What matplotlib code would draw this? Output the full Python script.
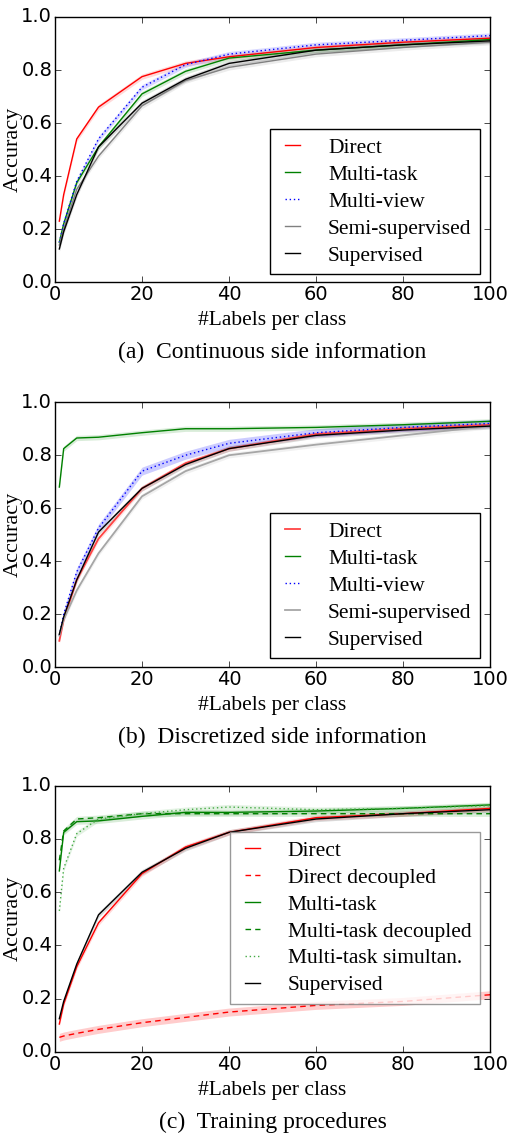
import matplotlib
matplotlib.use("Agg")
import matplotlib.pyplot as plt

# number of labelled examples per class
n_labels = [1, 2, 5, 10, 20, 30, 40, 60, 80, 100]

# (a) continuous side information
a_direct = [0.23, 0.33, 0.54, 0.66, 0.775, 0.825, 0.85, 0.885, 0.905, 0.92]
a_multitask = [0.15, 0.22, 0.375, 0.51, 0.71, 0.795, 0.845, 0.875, 0.895, 0.915]
a_multiview = [0.15, 0.22, 0.38, 0.54, 0.735, 0.82, 0.86, 0.895, 0.912, 0.93]
a_semisup = [0.14, 0.2, 0.35, 0.475, 0.665, 0.76, 0.81, 0.86, 0.885, 0.905]
a_sup = [0.125, 0.19, 0.33, 0.51, 0.675, 0.765, 0.825, 0.875, 0.895, 0.91]

# (b) discretized side information
b_direct = [0.10, 0.18, 0.33, 0.485, 0.675, 0.77, 0.825, 0.88, 0.90, 0.915]
b_multitask = [0.68, 0.825, 0.865, 0.868, 0.885, 0.90, 0.90, 0.905, 0.915, 0.928]
b_multiview = [0.12, 0.2, 0.36, 0.525, 0.74, 0.80, 0.845, 0.885, 0.905, 0.92]
b_semisup = [0.12, 0.18, 0.29, 0.43, 0.645, 0.74, 0.80, 0.84, 0.875, 0.91]
b_sup = [0.125, 0.19, 0.33, 0.51, 0.675, 0.765, 0.825, 0.875, 0.895, 0.91]

# (c) training procedures
c_direct = [0.105, 0.18, 0.32, 0.485, 0.67, 0.77, 0.825, 0.88, 0.895, 0.915]
c_direct_dec = [0.055, 0.06, 0.07, 0.085, 0.11, 0.13, 0.15, 0.175, 0.19, 0.215]
c_multitask = [0.68, 0.825, 0.865, 0.868, 0.885, 0.90, 0.90, 0.905, 0.915, 0.928]
c_multitask_dec = [0.72, 0.83, 0.875, 0.88, 0.895, 0.895, 0.895, 0.895, 0.895, 0.895]
c_multitask_sim = [0.53, 0.69, 0.82, 0.875, 0.895, 0.91, 0.92, 0.91, 0.915, 0.925]
c_sup = [0.125, 0.19, 0.33, 0.515, 0.675, 0.765, 0.825, 0.875, 0.895, 0.91]

band = 0.01

plt.style.use('classic')
serif = ['Liberation Serif', 'DejaVu Serif']


def curve(ax, y, label, color, ls='-', lw=1.0, spread=band, fill_alpha=0.15):
    ax.fill_between(n_labels, [v - spread for v in y], [v + spread for v in y],
                    color=color, alpha=fill_alpha, lw=0)
    line, = ax.plot(n_labels, y, color=color, lw=lw, label=label)
    if ls == '--':
        line.set_dashes((4, 3))
    elif ls == ':':
        line.set_dashes((1, 2))


def finish(ax, caption, leg_y, frame_color='black', frame_alpha=1.0):
    ax.set_xlim(0, 100)
    ax.set_ylim(0, 1.0)
    ax.set_xticks([0, 20, 40, 60, 80, 100])
    ax.set_yticks([0.0, 0.2, 0.4, 0.6, 0.8, 1.0])
    ax.set_yticklabels(['0.0', '0.2', '0.4', '0.6', '0.8', '1.0'])
    ax.tick_params(labelsize=14, direction='in', length=4, pad=2)
    ax.set_xlabel('#Labels per class', family=serif, fontsize=15.5, labelpad=5)
    ax.set_ylabel('Accuracy', family=serif, fontsize=16)
    ax.yaxis.set_label_coords(-0.074, 0.5)
    leg = ax.legend(loc='lower right', bbox_to_anchor=(0.977, leg_y),
                    prop={'family': serif, 'size': 15.5}, handlelength=1.3,
                    handletextpad=1.0, labelspacing=0.32, borderpad=0.4,
                    borderaxespad=0, numpoints=2, fancybox=False)
    leg.get_frame().set_edgecolor(frame_color)
    leg.get_frame().set_alpha(frame_alpha)
    ax.text(0.5, -0.264, caption, transform=ax.transAxes, ha='center', va='center',
            family=serif, fontsize=17)


fig = plt.figure(figsize=(5.09, 11.33), dpi=100, facecolor='white')
ax1 = fig.add_axes([0.108, 0.751, 0.855, 0.234])
ax2 = fig.add_axes([0.108, 0.411, 0.855, 0.234])
ax3 = fig.add_axes([0.108, 0.0715, 0.855, 0.235])

curve(ax1, a_direct, 'Direct', 'red')
curve(ax1, a_multitask, 'Multi-task', 'green')
curve(ax1, a_multiview, 'Multi-view', 'blue', ls=':')
curve(ax1, a_semisup, 'Semi-supervised', '0.5')
curve(ax1, a_sup, 'Supervised', 'black')
finish(ax1, '(a)  Continuous side information', 0.03)

curve(ax2, b_direct, 'Direct', '#ff4444', lw=1.3)
curve(ax2, b_multitask, 'Multi-task', 'green')
curve(ax2, b_multiview, 'Multi-view', 'blue', ls=':', spread=0.015, fill_alpha=0.2)
curve(ax2, b_semisup, 'Semi-supervised', '0.65', lw=1.3)
curve(ax2, b_sup, 'Supervised', 'black')
finish(ax2, '(b)  Discretized side information', 0.034)

curve(ax3, c_direct, 'Direct', 'red')
curve(ax3, c_direct_dec, 'Direct decoupled', 'red', ls='--', spread=0.015, fill_alpha=0.2)
curve(ax3, c_multitask, 'Multi-task', 'green')
curve(ax3, c_multitask_dec, 'Multi-task decoupled', 'green', ls='--')
curve(ax3, c_multitask_sim, 'Multi-task simultan.', '#44aa44', ls=':')
curve(ax3, c_sup, 'Supervised', 'black')
finish(ax3, '(c)  Training procedures', 0.18, frame_color='0.5', frame_alpha=0.8)

fig.savefig('out.png', dpi=100, facecolor='white')
